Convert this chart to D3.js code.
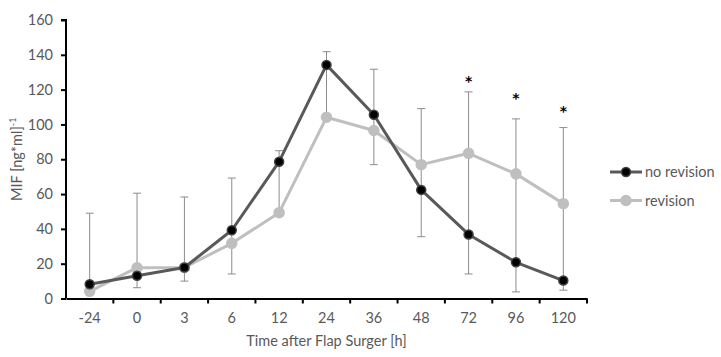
<!DOCTYPE html>
<html>
<head>
<meta charset="utf-8">
<script src="https://cdn.jsdelivr.net/npm/d3@7"></script>
<style>
  body { margin: 0; background: #fff; }
  text { font-family: Lato, "Open Sans", sans-serif; }
</style>
</head>
<body>
<div id="chart"></div>
<script>
// categories (time points, h)
const timePoints = ["-24", "0", "3", "6", "12", "24", "36", "48", "72", "96", "120"];
// MIF means
const noRevision = [8.2, 13.1, 17.8, 39.2, 78.6, 134.2, 105.6, 62.4, 36.8, 20.8, 10.3];
const revision   = [4.1, 17.7, 17.8, 31.7, 49.3, 104.1, 96.5, 76.9, 83.4, 71.6, 54.5];
// error bars as drawn: upper cap, lower cap (null = no lower cap)
const errUpper = [49, 60.5, 58.3, 69.2, 84.9, 141.8, 131.7, 109.1, 118.7, 103.2, 98.2];
const errLower = [null, 6.2, 10, 14.1, null, null, 76.9, 35.5, 14.1, 3.8, 4.8];
// significance markers
const starValues = [null, null, null, null, null, null, null, null, 127, 117, 110];
const yTicks = [0, 20, 40, 60, 80, 100, 120, 140, 160];

const width = 721, height = 357;
const margin = {top: 20, right: 134, bottom: 58.5, left: 66};

const svg = d3.select("#chart").append("svg")
    .attr("width", width)
    .attr("height", height);

const x = d3.scaleBand()
    .domain(timePoints)
    .range([margin.left, width - margin.right])
    .padding(0);

const y = d3.scaleLinear()
    .domain([0, 160])
    .range([height - margin.bottom, margin.top]);

const cx = d => x(d) + x.bandwidth() / 2;

// error bars
const errG = svg.append("g");
timePoints.forEach((t, i) => {
    let lo = errLower[i] !== null ? errLower[i] : Math.min(noRevision[i], revision[i]);
    errG.append("line")
        .attr("x1", cx(t)).attr("x2", cx(t))
        .attr("y1", y(errUpper[i])).attr("y2", y(lo))
        .attr("stroke", "#8c8c8c").attr("stroke-width", 1);
    errG.append("line")
        .attr("x1", cx(t) - 4).attr("x2", cx(t) + 4)
        .attr("y1", y(errUpper[i])).attr("y2", y(errUpper[i]))
        .attr("stroke", "#8c8c8c").attr("stroke-width", 1);
    if (errLower[i] !== null) {
        errG.append("line")
            .attr("x1", cx(t) - 4).attr("x2", cx(t) + 4)
            .attr("y1", y(errLower[i])).attr("y2", y(errLower[i]))
            .attr("stroke", "#8c8c8c").attr("stroke-width", 1);
    }
});

// series
const series = [
    {name: "revision", values: revision, line: "#bfbfbf", fill: "#bfbfbf", stroke: "#bfbfbf", r: 5},
    {name: "no revision", values: noRevision, line: "#595959", fill: "#000000", stroke: "#404040", r: 4.5}
];

const lineGen = d3.line()
    .x((d, i) => cx(timePoints[i]))
    .y(d => y(d));

series.forEach(s => {
    svg.append("path")
        .datum(s.values)
        .attr("d", lineGen)
        .attr("fill", "none")
        .attr("stroke", s.line)
        .attr("stroke-width", 3)
        .attr("stroke-linejoin", "round");
    svg.append("g").selectAll("circle")
        .data(s.values)
        .enter()
        .append("circle")
        .attr("cx", (d, i) => cx(timePoints[i]))
        .attr("cy", d => y(d))
        .attr("r", s.r)
        .attr("fill", s.fill)
        .attr("stroke", s.stroke)
        .attr("stroke-width", 1.5);
});

// asterisks
timePoints.forEach((t, i) => {
    if (starValues[i] === null) return;
    svg.append("text")
        .attr("x", cx(t))
        .attr("y", y(starValues[i]) + 8.5)
        .attr("text-anchor", "middle")
        .style("font-family", "'DejaVu Sans', sans-serif")
        .style("font-size", "14px")
        .style("font-weight", "bold")
        .attr("fill", "#000")
        .text("*");
});

// axes
const yAxis = svg.append("g")
    .attr("transform", `translate(${margin.left},0)`)
    .call(d3.axisLeft(y).tickValues(yTicks).tickSize(5).tickPadding(8));

const xAxis = svg.append("g")
    .attr("transform", `translate(0,${y(0)})`)
    .call(d3.axisBottom(x).tickSize(0).tickPadding(14));

// x ticks at band boundaries
const bounds = timePoints.map(t => x(t)).concat([x.range()[1]]);
xAxis.selectAll(".bound")
    .data(bounds.slice(1))
    .enter()
    .append("line")
    .attr("x1", d => d).attr("x2", d => d)
    .attr("y1", 0).attr("y2", 5)
    .attr("stroke", "#000").attr("stroke-width", 2);

[yAxis, xAxis].forEach(a => {
    a.select(".domain").attr("stroke", "#000").attr("stroke-width", 2);
    a.selectAll(".tick line").attr("stroke", "#000").attr("stroke-width", 2);
    a.selectAll(".tick text")
        .attr("fill", "#595959")
        .attr("font-size", 14.5);
});
yAxis.select(".domain").attr("d", `M-5,${y(160)}H0V${y(0)}`);

// axis titles
svg.append("text")
    .attr("x", (margin.left + width - margin.right) / 2)
    .attr("y", 346)
    .attr("text-anchor", "middle")
    .attr("font-size", 14.5)
    .attr("fill", "#595959")
    .text("Time after Flap Surger [h]");

const yTitle = svg.append("text")
    .attr("transform", `translate(22,${(y(0) + y(160)) / 2}) rotate(-90)`)
    .attr("text-anchor", "middle")
    .attr("font-size", 14.5)
    .attr("fill", "#595959");
yTitle.append("tspan").text("MIF [ng*ml]");
yTitle.append("tspan").attr("dy", -6).attr("font-size", 9).text("-1");

// legend
const legend = svg.append("g")
    .attr("transform", "translate(610,172)");
[series[1], series[0]].forEach((s, i) => {
    const g = legend.append("g").attr("transform", `translate(0,${i * 28.5})`);
    g.append("line")
        .attr("x1", 0).attr("x2", 32)
        .attr("stroke", s.line).attr("stroke-width", 3);
    g.append("circle")
        .attr("cx", 16).attr("r", s.r)
        .attr("fill", s.fill).attr("stroke", s.stroke).attr("stroke-width", 1.5);
    g.append("text")
        .attr("x", 35).attr("y", 5)
        .attr("font-size", 14.5)
        .attr("fill", "#595959")
        .text(s.name);
});
</script>
</body>
</html>
